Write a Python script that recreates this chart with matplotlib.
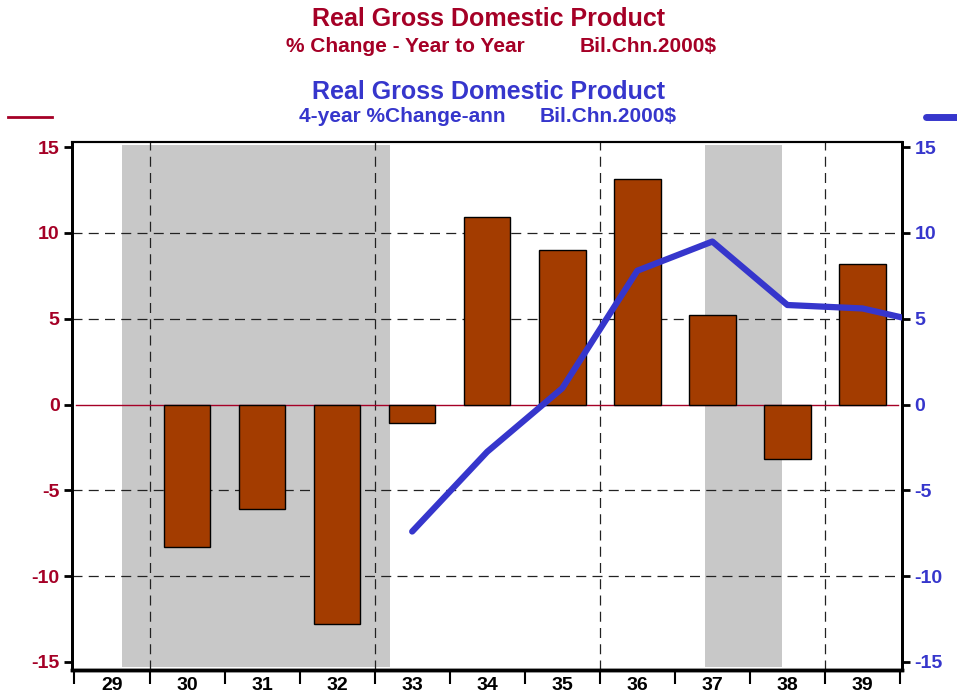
import numpy as np
import matplotlib.pyplot as plt
from matplotlib.lines import Line2D

# year-to-year % change (bars), 1929 has no value
years = [29, 30, 31, 32, 33, 34, 35, 36, 37, 38, 39]
yoy_chg = [np.nan, -8.3, -6.1, -12.8, -1.05, 10.95, 9.0, 13.15, 5.2, -3.2, 8.2]

# 4-year annualized % change (line)
line_years = [33, 34, 35, 36, 37, 38, 39, 40]
ann4_chg = [-7.4, -2.75, 0.95, 7.8, 9.5, 5.8, 5.6, 4.6]

# recessions, in fractional years
recessions = [(29.63, 33.2), (37.4, 38.43)]

red = '#a50026'
blue = '#3636cc'
bar_col = '#a33c00'
fam = ['Liberation Sans Narrow', 'Liberation Sans', 'DejaVu Sans']
plt.rcParams['font.family'] = fam

fig = plt.figure(figsize=(9.57, 6.96), dpi=100)
ax = fig.add_axes([72/957, 1-670/696, 830/957, 528/696])
ax2 = ax.twinx()

x0 = 29
for a, b in recessions:
    ax.axvspan(a - x0, b - x0, ymin=0.006, ymax=0.994, color='#c8c8c8', lw=0, zorder=0)

xc = np.array(years) - x0 + 0.5
ax.bar(xc, yoy_chg, width=0.62, color=bar_col, edgecolor='black', lw=1, zorder=3)
ax.axhline(0, color=red, lw=1, zorder=2, xmin=0.005, xmax=0.995)

for yv in [-10, -5, 5, 10]:
    ax.axhline(yv, color='#222222', lw=0.9, ls=(0, (8, 5)), zorder=1)
for xv in [1, 4, 7, 10]:
    ax.axvline(xv, color='#222222', lw=0.9, ls=(0, (8, 5)), zorder=1)

ax2.plot(np.array(line_years) - x0 + 0.5, ann4_chg, color=blue, lw=4.5,
         solid_capstyle='round', solid_joinstyle='round', zorder=5)

for a in (ax, ax2):
    a.set_ylim(-15.47, 15.3)
    a.set_xlim(-0.033, 11.027)
ax.set_zorder(ax2.get_zorder() - 1)
ax.patch.set_visible(True)
ax2.patch.set_visible(False)

yt = [-15, -10, -5, 0, 5, 10, 15]
ax.set_yticks(yt)
ax.set_yticklabels([str(v) for v in yt], color=red, fontsize=14, fontweight='bold')
ax2.set_yticks(yt)
ax2.set_yticklabels([str(v) for v in yt], color=blue, fontsize=14, fontweight='bold')
ax.tick_params(axis='y', direction='out', length=6, width=2, pad=3)
ax2.tick_params(axis='y', direction='out', length=6, width=2, pad=3)

ax.set_xticks(range(0, 12))
ax.set_xticklabels([])
ax.set_xticks(xc, [str(y) for y in years], minor=True)
ax.tick_params(axis='x', which='major', direction='out', length=10, width=1.5)
ax.tick_params(axis='x', which='minor', length=0, pad=5, labelsize=14)
for t in ax.get_xticklabels(minor=True):
    t.set_fontweight('bold')

for a in (ax, ax2):
    for s in a.spines.values():
        s.set_linewidth(1.5)
    a.spines['bottom'].set_linewidth(2.5)
    a.spines['left'].set_linewidth(2)
    a.spines['right'].set_linewidth(2)

# titles
fig.text(489/957, 1-19/696, 'Real Gross Domestic Product', color=red, fontsize=18,
         fontweight='bold', ha='center', va='center')
fig.text(525/957, 1-46/696, '% Change - Year to Year', color=red, fontsize=15,
         fontweight='bold', ha='right', va='center')
fig.text(580/957, 1-46/696, 'Bil.Chn.2000$', color=red, fontsize=15,
         fontweight='bold', ha='left', va='center')
fig.text(489/957, 1-92/696, 'Real Gross Domestic Product', color=blue, fontsize=18,
         fontweight='bold', ha='center', va='center')
fig.text(505/957, 1-117/696, '4-year %Change-ann', color=blue, fontsize=15,
         fontweight='bold', ha='right', va='center')
fig.text(540/957, 1-117/696, 'Bil.Chn.2000$', color=blue, fontsize=15,
         fontweight='bold', ha='left', va='center')

# legend keys
fig.add_artist(Line2D([8/957, 52/957], [1-117/696]*2, color=red, lw=2))
fig.add_artist(Line2D([926/957, 957/957], [1-117/696]*2, color=blue, lw=5,
                      solid_capstyle='round'))

fig.savefig('out.png', dpi=100)
